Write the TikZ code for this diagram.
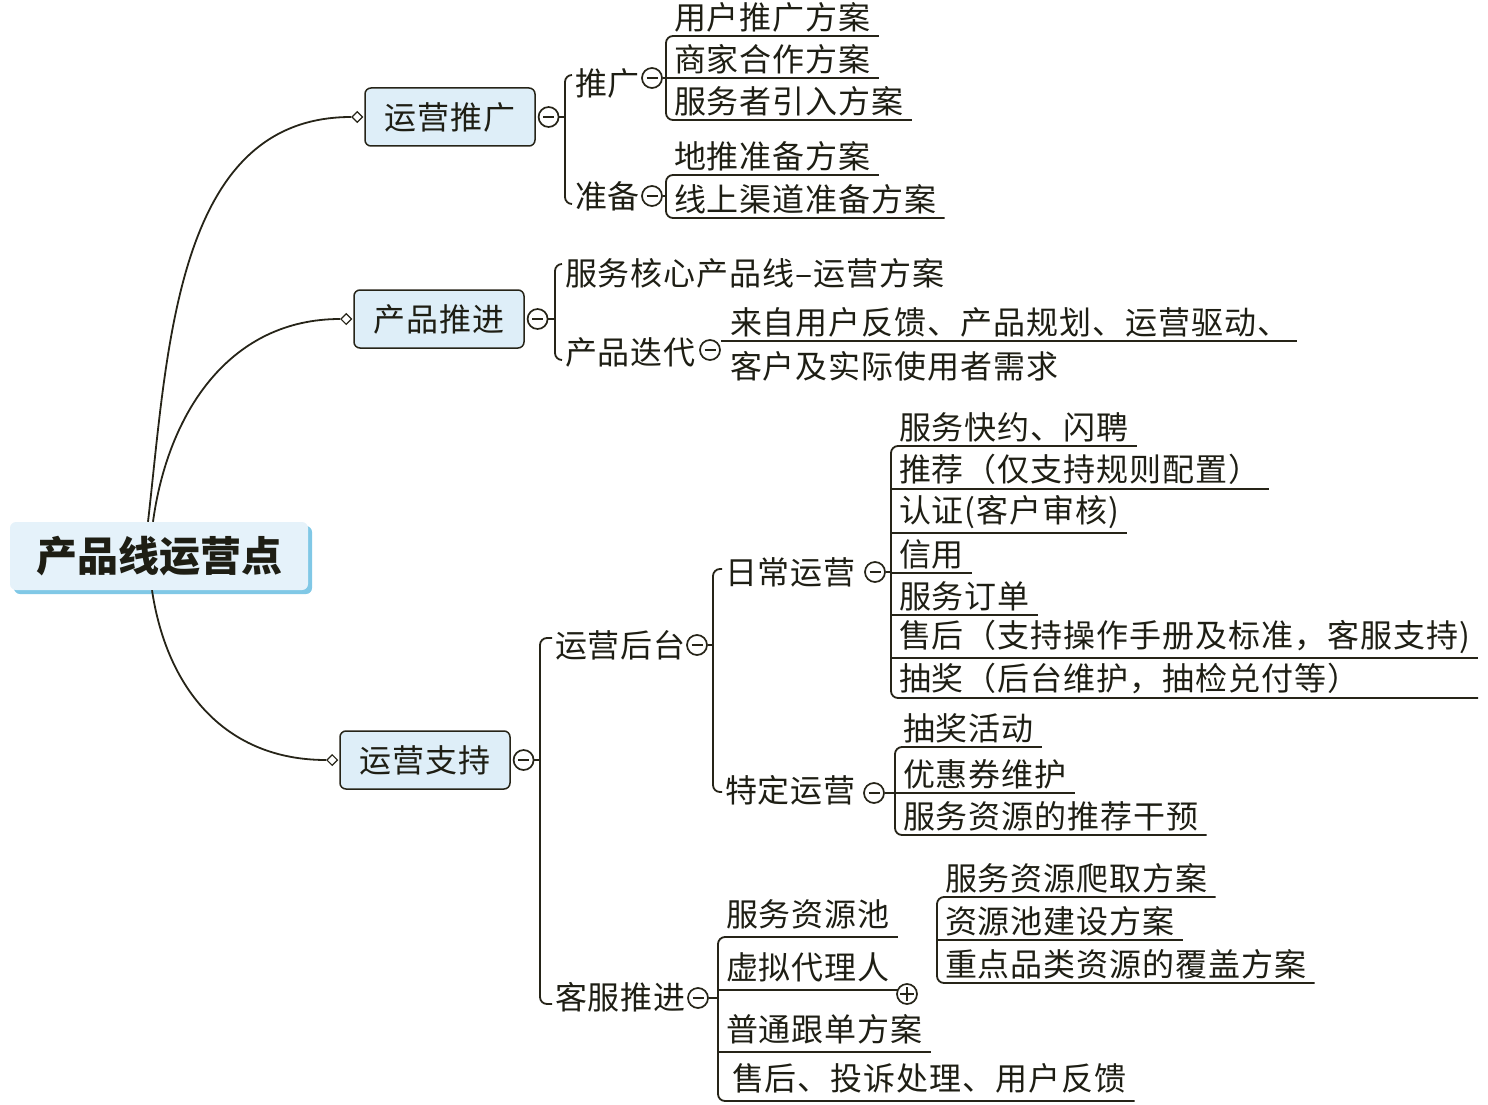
\documentclass[tikz,border=0pt]{standalone}
\usepackage{fontspec}
\usetikzlibrary{positioning, shapes.geometric, shadows}
\newfontfamily\cjk[LetterSpace=3]{Noto Sans CJK SC}
\newfontfamily\cjkroot{Noto Sans CJK SC}
\newcommand{\mapfont}{\cjk\fontsize{32}{38}\selectfont}
\newcommand{\rootfont}{\cjkroot\bfseries\fontsize{41}{48}\selectfont}
\definecolor{linec}{RGB}{38, 36, 24}
\definecolor{textc}{RGB}{30, 30, 20}
\definecolor{topicfill}{RGB}{222, 238, 248}
\definecolor{rootfill}{RGB}{229, 242, 250}
\definecolor{rootshade}{RGB}{128, 200, 230}
\tikzset{
  branch/.style={draw=linec, line width=1.8pt},
  root/.style={fill=rootfill, rounded corners=6pt, minimum width=298pt, minimum height=68pt,
               inner sep=0pt, font=\rootfont, text=textc,
               drop shadow={shadow xshift=4pt, shadow yshift=-4pt, fill=rootshade, opacity=1}},
  topic/.style={draw=linec, line width=1.5pt, fill=topicfill, rounded corners=6pt,
                minimum width=170pt, minimum height=58pt, inner sep=0pt, font=\mapfont, text=textc},
  stem/.style={anchor=west, inner xsep=3pt, inner ysep=2pt, outer sep=0pt, font=\mapfont, text=textc},
  leaf/.style={anchor=south west, inner xsep=8pt, inner ysep=4pt, outer sep=0pt, font=\mapfont, text=textc},
  tallleaf/.style={leaf, inner ysep=8pt},
  knob/.style={diamond, draw=linec, line width=1.2pt, fill=white, minimum size=11pt, inner sep=0pt},
  fold/.style={circle, draw=linec, line width=1.7pt, fill=white, minimum size=20pt, inner sep=0pt,
               path picture={\draw[linec, line width=2pt]
                 ([xshift=4.5pt]path picture bounding box.west) -- ([xshift=-4.5pt]path picture bounding box.east);}},
  unfold/.style={fold,
               path picture={\draw[linec, line width=1.8pt]
                 ([xshift=3pt]path picture bounding box.west) -- ([xshift=-3pt]path picture bounding box.east)
                 ([yshift=-3pt]path picture bounding box.north) -- ([yshift=3pt]path picture bounding box.south);}},
}
\begin{document}
\begin{tikzpicture}[x=1pt, y=-1pt]
\useasboundingbox (0,0) rectangle (1488,1105);

\node[root] (root) at (159,556) {产品线运营点};
\node[topic] (prom) at (450,117) {运营推广};
\node[topic] (prod) at (439,319) {产品推进};
\node[topic] (supp) at (425,760) {运营支持};
\node[knob, left=1pt of prom] (kprom) {};
\node[knob, left=1pt of prod] (kprod) {};
\node[knob, left=1pt of supp] (ksupp) {};
\node[fold, right=2pt of prom] (fprom) {};
\node[fold, right=2pt of prod] (fprod) {};
\node[fold, right=2pt of supp] (fsupp) {};

\draw[branch] ([xshift=-11pt]root.north) .. controls +(20,-175) and +(-175,0) .. (kprom.west);
\draw[branch] ([xshift=-6pt]root.north) .. controls +(15,-110) and +(-110,0) .. (kprod.west);
\draw[branch] ([xshift=-7pt]root.south) .. controls +(15,100) and +(-100,0) .. (ksupp.west);

\coordinate (bprom) at (565,117);
\node[stem] (push) at (572,83) {推广};
\node[stem] (prep) at (572,196) {准备};
\draw[branch, rounded corners=7pt] ([yshift=8pt]push.west) -| (bprom) |- ([yshift=-8pt]prep.west);
\draw[branch] (fprom) -- (bprom);

\node[fold] (fpush) at (652,78) {};
\node[leaf] (up1) at (666,36) {用户推广方案};
\node[leaf] (up2) at (666,78) {商家合作方案};
\node[leaf] (up3) at (666,120) {服务者引入方案};
\draw[branch, rounded corners=7pt] (up1.south east) -- (up1.south west) -- (up3.south west) -- (up3.south east);
\draw[branch] (up2.south west) -- (up2.south east);
\draw[branch] (fpush) -- (fpush -| up2.south west);

\node[fold] (fprep) at (652,196) {};
\node[leaf] (pp1) at (666,175) {地推准备方案};
\node[leaf] (pp2) at (666,218) {线上渠道准备方案};
\draw[branch, rounded corners=7pt] (pp1.south east) -- (pp1.south west) -- (pp2.south west) -- (pp2.south east);
\draw[branch] (fprep) -- (fprep -| pp1.south west);

\coordinate (bprod) at (555,319);
\node[stem] (core) at (562,273) {服务核心产品线–运营方案};
\node[stem] (iter) at (562,352) {产品迭代};
\draw[branch, rounded corners=7pt] ([yshift=9pt]core.west) -| (bprod) |- ([yshift=-8pt]iter.west);
\draw[branch] (fprod) -- (bprod);
\node[fold] (fiter) at (710,350) {};
\node[leaf] (src1) at (722,341) {来自用户反馈、产品规划、运营驱动、};
\node[leaf, anchor=north west] (src2) at (722,347) {客户及实际使用者需求};
\draw[branch] (fiter.east |- src1.south) -- (src1.south east);

\coordinate (bsupp) at (540,760);
\node[stem] (back) at (552,645) {运营后台};
\node[stem] (serv) at (552,997) {客服推进};
\draw[branch, rounded corners=7pt] ([yshift=7pt]back.west) -| (bsupp) |- ([yshift=-7pt]serv.west);
\draw[branch] (fsupp) -- (bsupp);

\node[fold] (fback) at (697,645) {};
\coordinate (bback) at (713,645);
\node[stem] (daily) at (722,572) {日常运营};
\node[stem] (spec) at (722,790) {特定运营};
\draw[branch, rounded corners=7pt] ([yshift=3pt]daily.west) -| (bback) |- ([yshift=-2pt]spec.west);
\draw[branch] (fback) -- (bback);

\node[fold] (fdaily) at (875,572) {};
\node[leaf] (d1) at (891,446) {服务快约、闪聘};
\node[leaf] (d2) at (891,489) {推荐（仅支持规则配置）};
\node[leaf] (d3) at (891,533) {认证(客户审核)};
\node[leaf] (d4) at (891,573) {信用};
\node[leaf] (d5) at (891,615) {服务订单};
\node[leaf] (d6) at (891,658) {售后（支持操作手册及标准，客服支持)};
\node[leaf, text width=571pt, align=left] (d7) at (891,698) {抽奖（后台维护，抽检兑付等）};
\draw[branch, rounded corners=7pt] (d1.south east) -- (d1.south west) -- (d7.south west) -- (d7.south east);
\foreach \n in {d2,d3,d4,d5,d6}
  \draw[branch] (\n.south west) -- (\n.south east);
\draw[branch] (fdaily) -- (fdaily -| d1.south west);

\node[fold] (fspec) at (874,793) {};
\node[leaf] (s1) at (895,747) {抽奖活动};
\node[leaf] (s2) at (895,793) {优惠券维护};
\node[leaf] (s3) at (895,835) {服务资源的推荐干预};
\draw[branch, rounded corners=7pt] (s1.south east) -- (s1.south west) -- (s3.south west) -- (s3.south east);
\draw[branch] (s2.south west) -- (s2.south east);
\draw[branch] (fspec) -- (fspec -| s1.south west);

\node[fold] (fserv) at (698,998) {};
\node[tallleaf] (k1) at (718,937) {服务资源池};
\node[tallleaf] (k2) at (718,990) {虚拟代理人};
\node[tallleaf] (k3) at (718,1052) {普通跟单方案};
\node[tallleaf] (k4) at (718,1101) {\hspace{6pt}售后、投诉处理、用户反馈};
\draw[branch, rounded corners=7pt] (k1.south east) -- (k1.south west) -- (k4.south west) -- (k4.south east);
\foreach \n in {k2,k3}
  \draw[branch] (\n.south west) -- (\n.south east);
\draw[branch] (fserv) -- (fserv -| k1.south west);
\node[unfold] (fagent) at (907,994) {};

\node[leaf] (p1) at (937,897) {服务资源爬取方案};
\node[leaf] (p2) at (937,940) {资源池建设方案};
\node[leaf] (p3) at (937,983) {重点品类资源的覆盖方案};
\draw[branch, rounded corners=7pt] (p1.south east) -- (p1.south west) -- (p3.south west) -- (p3.south east);
\draw[branch] (p2.south west) -- (p2.south east);
\end{tikzpicture}
\end{document}
